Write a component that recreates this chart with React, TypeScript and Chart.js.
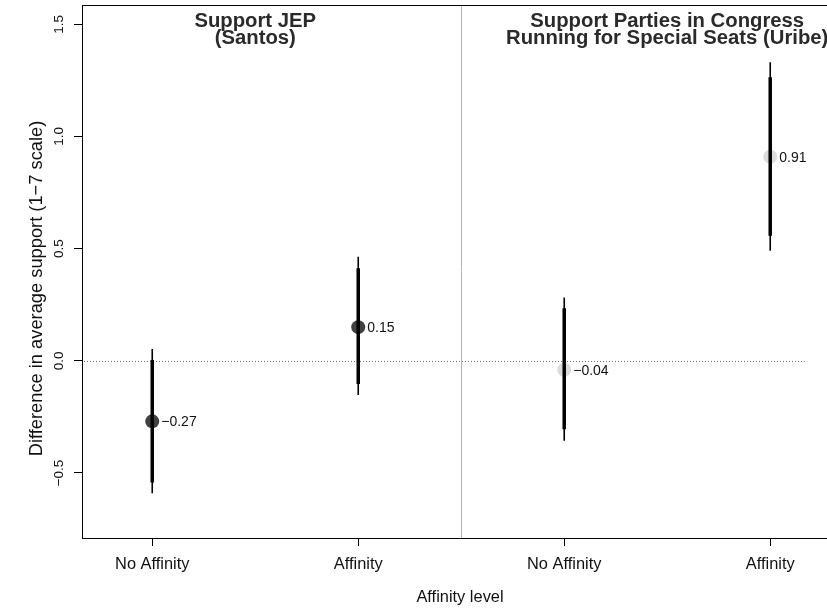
import React, { useEffect, useRef } from "react";
import { Chart, registerables } from "chart.js";

Chart.register(...registerables);

// ---- data ----
const categories = ["No Affinity", "Affinity", "No Affinity", "Affinity"];
const positions = [1, 2, 3, 4];
const panelTitles = [
  ["Support JEP", "(Santos)"],
  ["Support Parties in Congress", "Running for Special Seats (Uribe)"],
];
const panelCenters = [1.5, 3.5];
const estimates = [-0.27, 0.15, -0.04, 0.91];
const ci90Low = [-0.543, -0.103, -0.305, 0.557];
const ci90High = [0.004, 0.413, 0.234, 1.264];
const ci95Low = [-0.59, -0.152, -0.356, 0.491];
const ci95High = [0.052, 0.464, 0.282, 1.331];
const pointColors = ["#404040", "#404040", "#dcdcdc", "#dcdcdc"];
const yTicks = [-0.5, 0, 0.5, 1, 1.5];
const yTickLabels = ["\u22120.5", "0.0", "0.5", "1.0", "1.5"];
const xTitle = "Affinity level";
const yTitle = "Difference in average support (1\u22127 scale)";

// ---- scale ranges ----
const X_MIN = 0.659;
const X_MAX = 4.329;
const Y_MIN = -0.79;
const Y_MAX = 1.586;
const dividerX = 2.5;
const zeroLineEndX = 4.18;

const FONT = '"Liberation Sans", Arial, Helvetica, sans-serif';

const fmt = (v: number) => {
  const s = Math.abs(v).toFixed(2);
  return v < 0 ? "\u2212" + s : s;
};

const segs = (lo: number[], hi: number[]) =>
  positions.flatMap((x, i) => [
    { x, y: lo[i] },
    { x, y: hi[i] },
    { x, y: null as any },
  ]);

const decorPlugin = {
  id: "decor",
  beforeDatasetsDraw(chart: any) {
    const { ctx, chartArea, scales } = chart;
    const x = scales.x;
    const y = scales.y;
    ctx.save();
    // divider
    ctx.strokeStyle = "#b4b4b4";
    ctx.lineWidth = 1;
    const dx = Math.round(x.getPixelForValue(dividerX)) + 0.5;
    ctx.beginPath();
    ctx.moveTo(dx, chartArea.top);
    ctx.lineTo(dx, chartArea.bottom);
    ctx.stroke();
    // zero dotted line
    const zy = Math.round(y.getPixelForValue(0)) + 0.5;
    ctx.strokeStyle = "#707070";
    ctx.setLineDash([1, 2]);
    ctx.beginPath();
    ctx.moveTo(chartArea.left + 2, zy);
    ctx.lineTo(x.getPixelForValue(zeroLineEndX), zy);
    ctx.stroke();
    ctx.restore();
  },
  afterDraw(chart: any) {
    const { ctx, chartArea, scales } = chart;
    const x = scales.x;
    const y = scales.y;
    ctx.save();
    // top border of box
    ctx.strokeStyle = "#000";
    ctx.lineWidth = 1;
    ctx.beginPath();
    ctx.moveTo(chartArea.left, chartArea.top + 0.5);
    ctx.lineTo(chartArea.right, chartArea.top + 0.5);
    ctx.stroke();

    ctx.fillStyle = "#111";
    // y tick labels (rotated)
    ctx.font = `13.5px ${FONT}`;
    ctx.textAlign = "center";
    ctx.textBaseline = "alphabetic";
    yTicks.forEach((v, i) => {
      const py = y.getPixelForValue(v);
      ctx.save();
      ctx.translate(63.3, py);
      ctx.rotate(-Math.PI / 2);
      ctx.fillText(yTickLabels[i], 0, 0);
      ctx.restore();
    });
    // y title
    ctx.font = `18.3px ${FONT}`;
    ctx.save();
    ctx.translate(42, (chartArea.top + chartArea.bottom) / 2 + 17);
    ctx.rotate(-Math.PI / 2);
    ctx.fillText(yTitle, 0, 0);
    ctx.restore();

    // x tick labels
    ctx.font = `16.4px ${FONT}`;
    positions.forEach((p, i) => {
      ctx.fillText(categories[i], x.getPixelForValue(p), 569);
    });
    // x title
    ctx.fillText(xTitle, (chartArea.left + chartArea.right) / 2, 602);

    // panel titles
    ctx.fillStyle = "#2a2a2a";
    ctx.font = `bold 20.3px ${FONT}`;
    panelTitles.forEach((lines, i) => {
      const px = x.getPixelForValue(panelCenters[i]);
      lines.forEach((t, j) => {
        ctx.fillText(t, px, 26.7 + j * 17.5);
      });
    });

    // value labels
    ctx.fillStyle = "#111";
    ctx.font = `14px ${FONT}`;
    ctx.textAlign = "left";
    estimates.forEach((v, i) => {
      const px = x.getPixelForValue(positions[i]);
      const py = y.getPixelForValue(v);
      ctx.fillText(fmt(v), px + 9, py + 5);
    });
    ctx.restore();
  },
};

export default function App() {
  const ref = useRef<HTMLCanvasElement | null>(null);
  useEffect(() => {
    if (!ref.current) return;
    const chart = new Chart(ref.current, {
      type: "scatter",
      data: {
        datasets: [
          {
            label: "estimates",
            data: positions.map((x, i) => ({ x, y: estimates[i] })),
            pointRadius: 7,
            pointBackgroundColor: pointColors,
            pointBorderWidth: 0,
            pointBorderColor: "rgba(0,0,0,0)",
            showLine: false,
            order: 3,
          },
          {
            label: "ci95",
            data: segs(ci95Low, ci95High),
            showLine: true,
            borderColor: "#000",
            borderWidth: 1.6,
            pointRadius: 0,
            spanGaps: false,
            order: 2,
          },
          {
            label: "ci90",
            data: segs(ci90Low, ci90High),
            showLine: true,
            borderColor: "#000",
            borderWidth: 3.5,
            borderCapStyle: "butt",
            pointRadius: 0,
            spanGaps: false,
            order: 1,
          },
        ],
      } as any,
      options: {
        animation: false,
        responsive: false,
        maintainAspectRatio: false,
        layout: {
          autoPadding: false,
          padding: { top: 5, left: 0, right: 0, bottom: 0 },
        },
        plugins: { legend: { display: false }, tooltip: { enabled: false } },
        scales: {
          x: {
            type: "linear",
            min: X_MIN,
            max: X_MAX,
            afterBuildTicks: (s: any) => {
              s.ticks = positions.map((v) => ({ value: v }));
            },
            afterFit: (s: any) => {
              s.height = 71;
            },
            ticks: { display: false },
            grid: {
              display: true,
              drawOnChartArea: false,
              drawTicks: true,
              tickLength: 8,
              color: "#000",
              lineWidth: 1,
            },
            border: { display: true, color: "#000", width: 1 },
          },
          y: {
            type: "linear",
            min: Y_MIN,
            max: Y_MAX,
            afterBuildTicks: (s: any) => {
              s.ticks = yTicks.map((v) => ({ value: v }));
            },
            afterFit: (s: any) => {
              s.width = 82;
            },
            ticks: { display: false },
            grid: {
              display: true,
              drawOnChartArea: false,
              drawTicks: true,
              tickLength: 8,
              color: "#000",
              lineWidth: 1,
            },
            border: { display: true, color: "#000", width: 1 },
          },
        },
      } as any,
      plugins: [decorPlugin],
    });
    return () => chart.destroy();
  }, []);
  return (
    <div
      style={{
        position: "fixed",
        left: 0,
        top: 0,
        width: 827,
        height: 609,
        overflow: "hidden",
        background: "#fff",
      }}
    >
      <canvas ref={ref} width={838} height={609} style={{ display: "block" }} />
    </div>
  );
}
